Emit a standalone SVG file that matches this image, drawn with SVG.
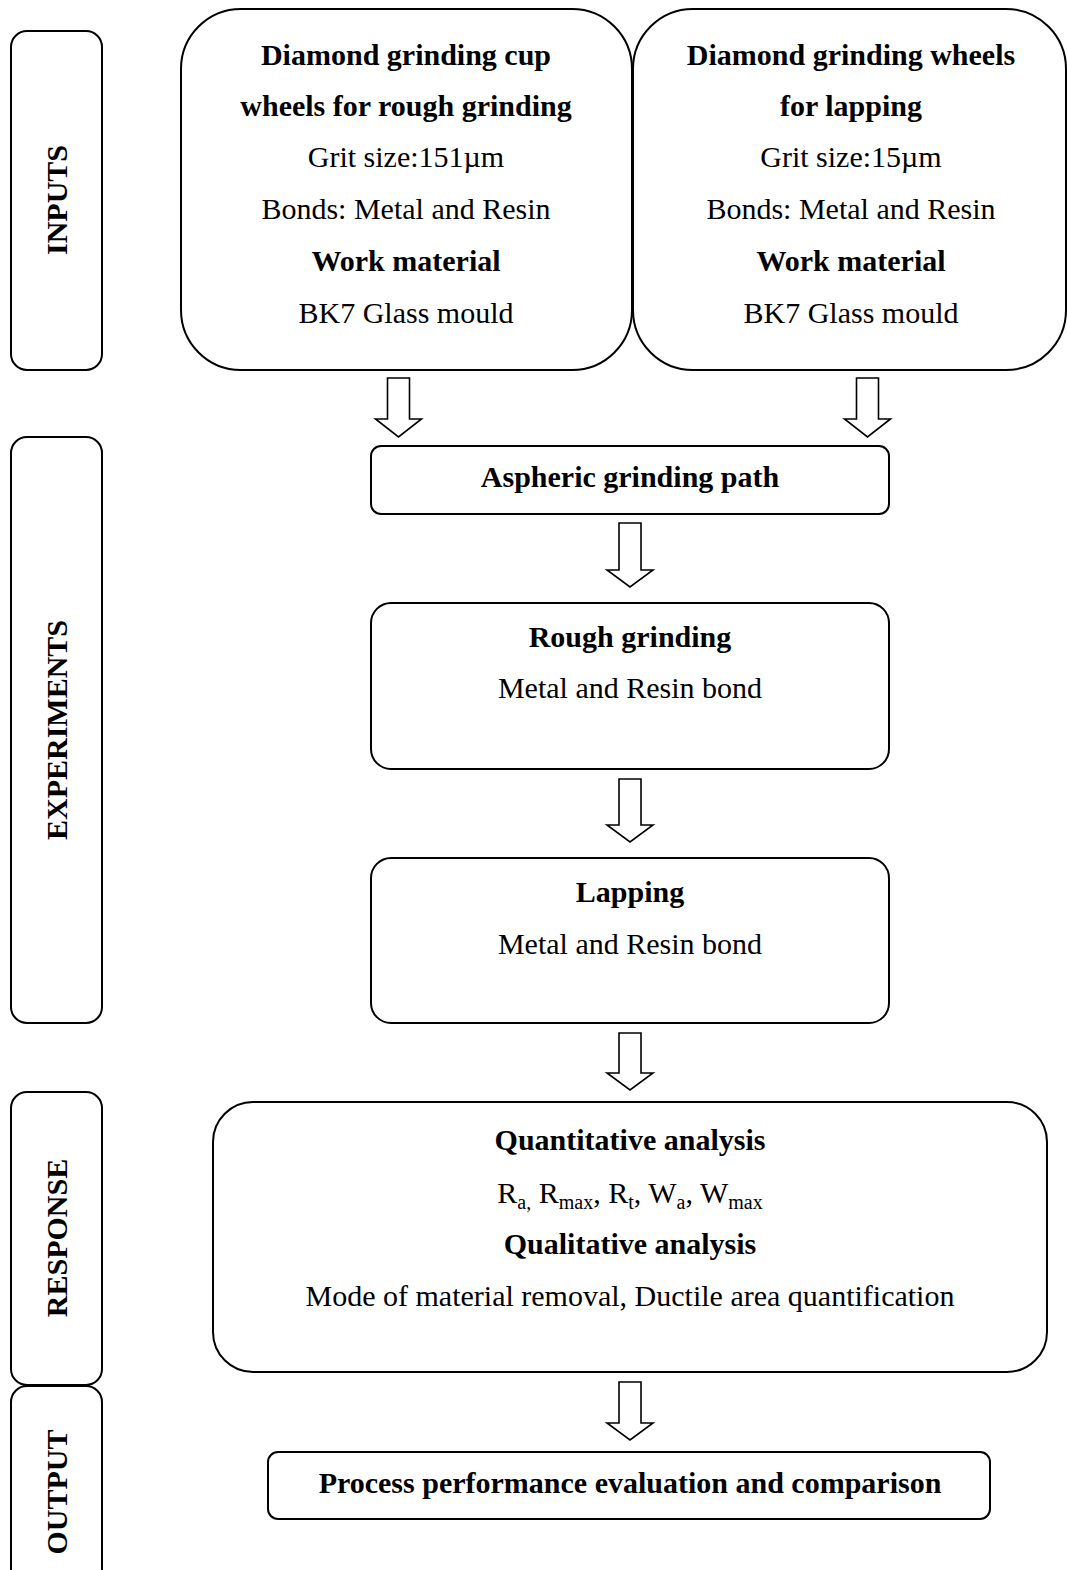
<svg xmlns="http://www.w3.org/2000/svg" width="1067" height="1570" viewBox="0 0 1067 1570">
<style>
.box{fill:#fff;stroke:#000;stroke-width:2}
.arr{fill:#fff;stroke:#000;stroke-width:1.6;stroke-linejoin:miter}
text{font-family:"Liberation Serif","Times New Roman",serif;font-size:30px;fill:#000;text-anchor:middle}
.b{font-weight:bold}
.sub{font-size:20px}
</style>
<rect width="1067" height="1570" fill="#fff"/>
<g id="label-inputs">
<rect class="box" x="11" y="31" width="91" height="339" rx="16"/>
<text class="b" transform="translate(67,200) rotate(-90)">INPUTS</text>
</g>
<g id="label-experiments">
<rect class="box" x="11" y="437" width="91" height="586" rx="16"/>
<text class="b" transform="translate(67,730) rotate(-90)">EXPERIMENTS</text>
</g>
<g id="label-response">
<rect class="box" x="11" y="1092" width="91" height="293" rx="16"/>
<text class="b" transform="translate(67,1238) rotate(-90)">RESPONSE</text>
</g>
<g id="label-output">
<rect class="box" x="11" y="1386" width="91" height="200" rx="16"/>
<text class="b" transform="translate(67,1492) rotate(-90)">OUTPUT</text>
</g>
<g id="input-rough">
<rect class="box" x="181" y="9" width="451" height="361" rx="60"/>
<text class="b" x="406" y="65">Diamond grinding cup</text>
<text class="b" x="406" y="116">wheels for rough grinding</text>
<text x="406" y="167">Grit size:151µm</text>
<text x="406" y="219">Bonds: Metal and Resin</text>
<text class="b" x="406" y="271">Work material</text>
<text x="406" y="323">BK7 Glass mould</text>
</g>
<g id="input-lapping">
<rect class="box" x="633" y="9" width="433" height="361" rx="60"/>
<text class="b" x="851" y="65">Diamond grinding wheels</text>
<text class="b" x="851" y="116">for lapping</text>
<text x="851" y="167">Grit size:15µm</text>
<text x="851" y="219">Bonds: Metal and Resin</text>
<text class="b" x="851" y="271">Work material</text>
<text x="851" y="323">BK7 Glass mould</text>
</g>
<g id="aspheric">
<rect class="box" x="371" y="446" width="518" height="68" rx="10"/>
<text class="b" x="630" y="487">Aspheric grinding path</text>
</g>
<g id="rough">
<rect class="box" x="371" y="603" width="518" height="166" rx="20"/>
<text class="b" x="630" y="647">Rough grinding</text>
<text x="630" y="698">Metal and Resin bond</text>
</g>
<g id="lapping">
<rect class="box" x="371" y="858" width="518" height="165" rx="20"/>
<text class="b" x="630" y="902">Lapping</text>
<text x="630" y="954">Metal and Resin bond</text>
</g>
<g id="response">
<rect class="box" x="213" y="1102" width="834" height="270" rx="40"/>
<text class="b" x="630" y="1150">Quantitative analysis</text>
<text x="630" y="1203">R<tspan class="sub" dy="6">a,</tspan><tspan dy="-6"> R</tspan><tspan class="sub" dy="6">max</tspan><tspan dy="-6">, R</tspan><tspan class="sub" dy="6">t</tspan><tspan dy="-6">, W</tspan><tspan class="sub" dy="6">a</tspan><tspan dy="-6">, W</tspan><tspan class="sub" dy="6">max</tspan></text>
<text class="b" x="630" y="1254">Qualitative analysis</text>
<text x="630" y="1306">Mode of material removal, Ductile area quantification</text>
</g>
<g id="output">
<rect class="box" x="268" y="1452" width="722" height="67" rx="10"/>
<text class="b" x="630" y="1493">Process performance evaluation and comparison</text>
</g>
<g id="connectors">
<polygon class="arr" points="387.5,378 409.5,378 409.5,419 421.5,419 398.5,437 375.5,419 387.5,419"/>
<polygon class="arr" points="856.5,378 878.5,378 878.5,419 890.5,419 867.5,437 844.5,419 856.5,419"/>
<polygon class="arr" points="619,523 641,523 641,570 653,570 630,587 607,570 619,570"/>
<polygon class="arr" points="619,779 641,779 641,825 653,825 630,842 607,825 619,825"/>
<polygon class="arr" points="619,1033 641,1033 641,1073 653,1073 630,1090 607,1073 619,1073"/>
<polygon class="arr" points="619,1382 641,1382 641,1423 653,1423 630,1440 607,1423 619,1423"/>
</g>
</svg>
